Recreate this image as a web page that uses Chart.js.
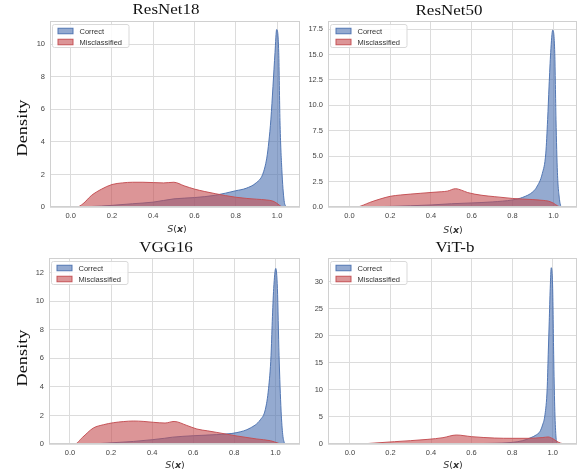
<!DOCTYPE html>
<html>
<head>
<meta charset="utf-8">
<script src="https://cdn.jsdelivr.net/npm/chart.js@4.4.1/dist/chart.umd.min.js"></script>
<style>
  html, body { margin: 0; padding: 0; background: #fff; }
  #wrap { position: relative; width: 585px; height: 473px; overflow: hidden; }
  .panel { position: absolute; }
  .title { position: absolute; width: 120px; text-align: center; font: 15px "Liberation Serif", "Times New Roman", serif; line-height: 17px; color: #111; transform: scaleX(1.13); }
  .ylab { position: absolute; width: 80px; text-align: center; font: 15px "Liberation Serif", "Times New Roman", serif; line-height: 16px; color: #111; transform: rotate(-90deg) scaleX(1.22); }
  .xlab { position: absolute; width: 40px; text-align: center; font: 9.5px "DejaVu Sans", sans-serif; line-height: 10px; color: #333; }
</style>
</head>
<body>
<div id="wrap">
  <div class="panel" style="left:0;top:0"><canvas id="c0" width="305" height="236"></canvas></div>
  <div class="panel" style="left:295px;top:0"><canvas id="c1" width="290" height="236"></canvas></div>
  <div class="panel" style="left:0;top:236px"><canvas id="c2" width="305" height="237"></canvas></div>
  <div class="panel" style="left:295px;top:236px"><canvas id="c3" width="290" height="237"></canvas></div>

  <div class="title" style="left:106px;top:1px">ResNet18</div>
  <div class="title" style="left:389px;top:2px">ResNet50</div>
  <div class="title" style="left:106px;top:239px">VGG16</div>
  <div class="title" style="left:395px;top:239px">ViT-b</div>

  <div class="ylab" style="left:-18px;top:120px">Density</div>
  <div class="ylab" style="left:-18px;top:350px">Density</div>

  <div class="xlab" style="left:157px;top:224px"><i>S</i>(<b><i>x</i></b>)</div>
  <div class="xlab" style="left:433px;top:225px"><i>S</i>(<b><i>x</i></b>)</div>
  <div class="xlab" style="left:155px;top:460px"><i>S</i>(<b><i>x</i></b>)</div>
  <div class="xlab" style="left:433px;top:460px"><i>S</i>(<b><i>x</i></b>)</div>
</div>
<script>
// ResNet18
const r18CorrectX = [-0.05, 0.05, 0.1, 0.15, 0.2, 0.3, 0.4, 0.5, 0.6, 0.7, 0.8, 0.85, 0.9, 0.93, 0.95, 0.96, 0.97, 0.98, 0.99, 0.998, 1.008, 1.014, 1.023, 1.034, 1.045];
const r18CorrectY = [0, 0, 0.03, 0.06, 0.1, 0.2, 0.3, 0.5, 0.58, 0.72, 1.0, 1.15, 1.5, 2.0, 3.0, 4.0, 5.4, 7.4, 9.5, 10.9, 9.5, 5.3, 2.3, 0.4, 0];
const r18MisX = [-0.05, 0.03, 0.06, 0.1, 0.15, 0.2, 0.25, 0.3, 0.35, 0.4, 0.45, 0.5, 0.55, 0.6, 0.65, 0.7, 0.75, 0.8, 0.85, 0.9, 0.95, 0.98, 1.0, 1.02, 1.03];
const r18MisY = [0, 0, 0.2, 0.7, 1.1, 1.38, 1.48, 1.52, 1.52, 1.5, 1.48, 1.52, 1.3, 1.1, 0.95, 0.82, 0.7, 0.6, 0.53, 0.48, 0.43, 0.36, 0.22, 0.03, 0];

// ResNet50
const r50CorrectX = [-0.05, 0.05, 0.1, 0.2, 0.3, 0.4, 0.5, 0.6, 0.7, 0.8, 0.85, 0.9, 0.918, 0.946, 0.963, 0.972, 0.979, 0.987, 0.997, 1.007, 1.013, 1.02, 1.03, 1.037];
const r50CorrectY = [0, 0, 0.02, 0.06, 0.12, 0.2, 0.32, 0.4, 0.5, 0.7, 0.95, 1.5, 1.95, 3.3, 5.3, 8.6, 11.9, 15.2, 17.4, 15.1, 8.6, 3.4, 0.75, 0];
const r50MisX = [-0.05, 0.035, 0.07, 0.1, 0.15, 0.2, 0.25, 0.3, 0.35, 0.4, 0.45, 0.48, 0.52, 0.55, 0.58, 0.65, 0.71, 0.8, 0.85, 0.9, 0.95, 0.975, 1.0, 1.02, 1.035];
const r50MisY = [0, 0, 0.2, 0.45, 0.78, 1.05, 1.18, 1.27, 1.35, 1.43, 1.5, 1.56, 1.8, 1.65, 1.42, 1.15, 1.02, 0.84, 0.78, 0.73, 0.65, 0.58, 0.38, 0.12, 0];

// VGG16
const vggCorrectX = [-0.05, 0.07, 0.13, 0.2, 0.31, 0.4, 0.46, 0.5, 0.6, 0.715, 0.813, 0.878, 0.927, 0.951, 0.967, 0.979, 0.985, 0.992, 1.002, 1.01, 1.018, 1.028, 1.036, 1.045];
const vggCorrectY = [0, 0, 0.02, 0.08, 0.18, 0.3, 0.4, 0.48, 0.58, 0.66, 0.8, 1.12, 1.7, 2.4, 3.9, 6.2, 8.6, 10.9, 12.3, 10.9, 6.2, 2.3, 0.65, 0];
const vggMisX = [-0.05, 0.024, 0.06, 0.114, 0.163, 0.211, 0.26, 0.309, 0.36, 0.406, 0.463, 0.507, 0.569, 0.618, 0.67, 0.715, 0.813, 0.91, 0.976, 1.016, 1.03];
const vggMisY = [0, 0, 0.45, 1.12, 1.35, 1.49, 1.57, 1.61, 1.58, 1.52, 1.47, 1.58, 1.3, 1.05, 0.92, 0.81, 0.56, 0.35, 0.23, 0.05, 0];

// ViT-b
const vitCorrectX = [-0.05, 0.3, 0.5, 0.7, 0.8, 0.85, 0.888, 0.92, 0.937, 0.95, 0.962, 0.973, 0.978, 0.983, 0.988, 0.993, 1.0, 1.005, 1.01, 1.016, 1.022];
const vitCorrectY = [0, 0, 0.03, 0.12, 0.3, 0.6, 1.1, 1.7, 2.3, 3.5, 5.4, 10.3, 16.5, 22.6, 28.8, 32.6, 28.8, 16.5, 7, 1.5, 0];
const vitMisX = [-0.05, 0.048, 0.1, 0.22, 0.3, 0.385, 0.459, 0.525, 0.6, 0.714, 0.8, 0.878, 0.952, 0.977, 1.0, 1.02, 1.04, 1.06];
const vitMisY = [0, 0, 0.12, 0.43, 0.62, 0.86, 1.17, 1.66, 1.36, 1.1, 1.05, 1.05, 1.2, 1.3, 1.0, 0.5, 0.15, 0];

const xTicks = [0, 0.2, 0.4, 0.6, 0.8, 1.0];
const r18YTicks = [0, 2, 4, 6, 8, 10];
const r50YTicks = [0, 2.5, 5, 7.5, 10, 12.5, 15, 17.5];
const vggYTicks = [0, 2, 4, 6, 8, 10, 12];
const vitYTicks = [0, 5, 10, 15, 20, 25, 30];

const seriesLabels = ["Correct", "Misclassified"];

const blue = "76,114,176", red = "196,78,82";

const frameLegend = {
  id: "frameLegend",
  afterDraw(chart) {
    const { ctx, chartArea: a } = chart;
    ctx.save();
    ctx.strokeStyle = "#d0d0d0";
    ctx.lineWidth = 1;
    ctx.strokeRect(Math.round(a.left) + 0.5, Math.round(a.top) + 0.5, Math.round(a.width) - 1, Math.round(a.height) - 1);

    ctx.font = '7.5px "Liberation Sans", Arial, sans-serif';
    let w = 0;
    chart.data.datasets.forEach(ds => { w = Math.max(w, ctx.measureText(ds.label).width); });
    const bx = Math.round(a.left) + 2.5, by = Math.round(a.top) + 3.5;
    ctx.fillStyle = "rgba(255,255,255,0.85)";
    ctx.strokeStyle = "#d9d9d9";
    ctx.beginPath();
    ctx.roundRect(bx, by, w + 34, 23, 2);
    ctx.fill();
    ctx.stroke();
    chart.data.datasets.forEach((ds, i) => {
      const y = Math.round(a.top) + 10 + i * 11;
      ctx.fillStyle = ds.backgroundColor;
      ctx.fillRect(bx + 5.5, y - 2.75, 15, 5.5);
      ctx.strokeStyle = ds.borderColor;
      ctx.strokeRect(bx + 5.5, y - 2.75, 15, 5.5);
      ctx.fillStyle = "#333";
      ctx.textBaseline = "middle";
      ctx.fillText(ds.label, bx + 27, y + 0.5);
    });
    ctx.restore();
  }
};

function pts(xs, ys) { return xs.map((x, i) => ({ x: x, y: ys[i] })); }

function makeChart(id, cx, cy, mx, my, yTicks, yMax, xMin, xMax, box, yFmt) {
  new Chart(document.getElementById(id), {
    type: "line",
    data: {
      datasets: [
        { label: seriesLabels[0], data: pts(cx, cy), order: 1,
          backgroundColor: "rgba(" + blue + ",0.6)", borderColor: "rgba(" + blue + ",0.95)" },
        { label: seriesLabels[1], data: pts(mx, my), order: 0,
          backgroundColor: "rgba(" + red + ",0.6)", borderColor: "rgba(" + red + ",0.95)" }
      ]
    },
    options: {
      responsive: false,
      animation: false,
      events: [],
      layout: { padding: { top: box.top, right: box.right, left: 0, bottom: 0 } },
      elements: {
        point: { radius: 0 },
        line: { borderWidth: 1, fill: "origin", cubicInterpolationMode: "monotone" }
      },
      plugins: { legend: { display: false }, tooltip: { enabled: false } },
      scales: {
        x: {
          type: "linear", min: xMin, max: xMax,
          afterBuildTicks: s => { s.ticks = xTicks.map(v => ({ value: v })); },
          afterFit: s => { s.height = box.bottom; },
          ticks: { callback: v => v.toFixed(1), font: { size: 7.5, family: "Liberation Sans" }, color: "#444", padding: 4, maxRotation: 0 },
          grid: { color: "#dcdcdc", drawTicks: false },
          border: { display: false }
        },
        y: {
          min: 0, max: yMax,
          afterBuildTicks: s => { s.ticks = yTicks.map(v => ({ value: v })); },
          afterFit: s => { s.width = box.left; },
          ticks: { callback: yFmt, font: { size: 7.5, family: "Liberation Sans" }, color: "#444", padding: 5 },
          grid: { color: "#dcdcdc", drawTicks: false },
          border: { display: false }
        }
      }
    },
    plugins: [frameLegend]
  });
}

const intFmt = v => String(v);
const oneDec = v => v.toFixed(1);

makeChart("c0", r18CorrectX, r18CorrectY, r18MisX, r18MisY, r18YTicks, 11.43, -0.1, 1.111, { top: 21, right: 5, left: 50, bottom: 29 }, intFmt);
makeChart("c1", r50CorrectX, r50CorrectY, r50MisX, r50MisY, r50YTicks, 18.3, -0.105, 1.116, { top: 21, right: 8, left: 33, bottom: 29 }, oneDec);
makeChart("c2", vggCorrectX, vggCorrectY, vggMisX, vggMisY, vggYTicks, 13.03, -0.102, 1.12, { top: 22, right: 5, left: 49, bottom: 29 }, intFmt);
makeChart("c3", vitCorrectX, vitCorrectY, vitMisX, vitMisY, vitYTicks, 34.4, -0.108, 1.12, { top: 22, right: 8, left: 33, bottom: 29 }, intFmt);
</script>
</body>
</html>
